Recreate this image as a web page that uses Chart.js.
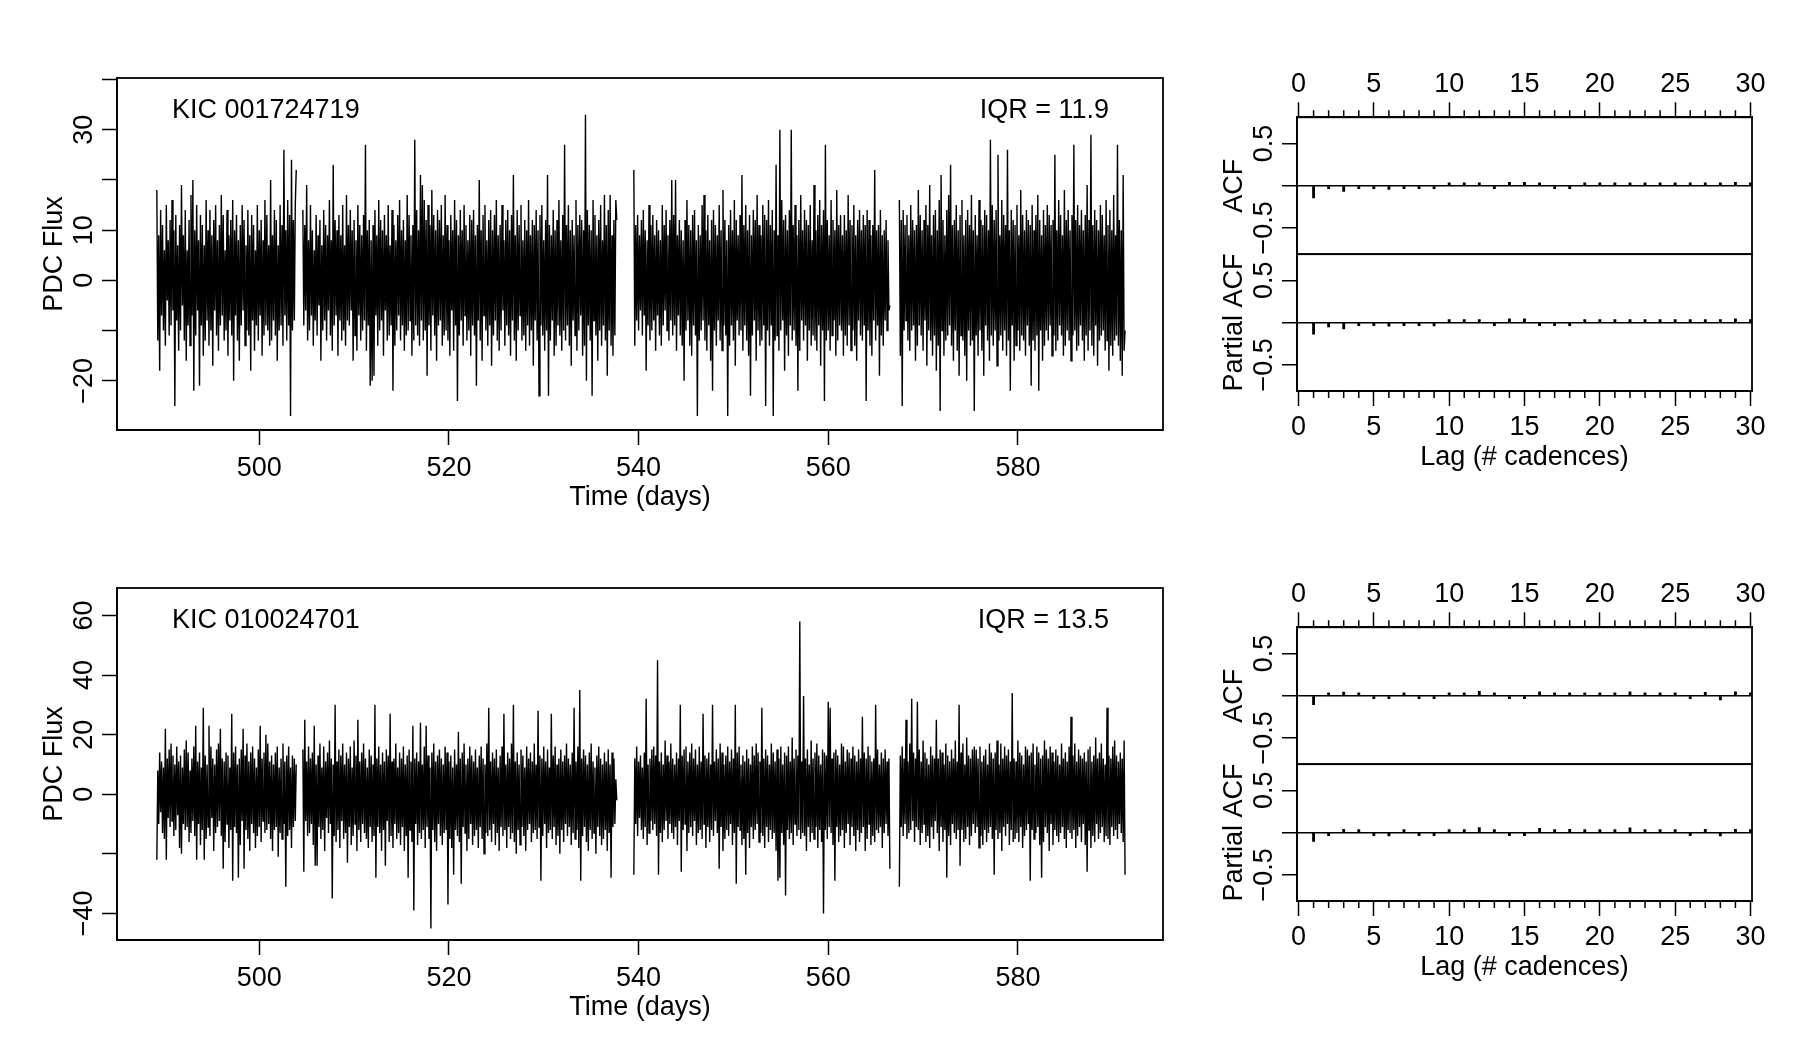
<!DOCTYPE html>
<html>
<head>
<meta charset="utf-8">
<script src="https://cdn.jsdelivr.net/npm/chart.js@4.4.1/dist/chart.umd.min.js"></script>
<style>
html, body { margin: 0; padding: 0; background: #fff; }
#page { position: relative; width: 1800px; height: 1050px; overflow: hidden; background: #fff; }
#page canvas { position: absolute; }
</style>
</head>
<body>
<div id="page">
  <canvas id="lcA" width="1200" height="525" style="left:0;top:0"></canvas>
  <canvas id="acfA" width="600" height="525" style="left:1200px;top:0"></canvas>
  <canvas id="lcB" width="1200" height="525" style="left:0;top:510px"></canvas>
  <canvas id="acfB" width="600" height="525" style="left:1200px;top:510px"></canvas>
</div>
<script>
// time segments (days), same quarter for both stars; cadences evenly spread in each
const segStart = [489.2, 504.6, 539.5, 567.5];
const segEnd = [503.9, 537.7, 566.5, 591.3];
const timeTicks = [500, 520, 540, 560, 580];

// KIC 001724719 flux, per segment
const fluxA1 = [18,-12,9,-18,14,-7,11,-10,6,-13,15,-4,8,-11,12,-9,16,-6,10,-25,
  13,-8,7,-14,11,-10,19,-5,9,-12,14,-16,6,-9,12,-13,17,-7,20,-22,
  10,-11,15,-6,8,-21,13,-9,11,-15,7,-12,16,-8,10,-13,14,-10,9,-17,
  12,-6,15,-11,8,-14,11,-9,17,-7,13,-12,6,-10,14,-15,9,-8,12,-11,
  16,-20,10,-7,13,-12,8,-16,11,-9,15,-6,12,-13,7,-10,14,-11,9,-18,
  13,-8,11,-14,6,-9,15,-12,10,-7,12,-15,8,-11,16,-9,13,-10,7,-13,
  20,-12,9,-8,14,-11,12,-16,7,-10,15,-9,11,-13,26,-7,10,-12,16,-9,
  13,-27,24,-10,12,-8,15,22];
const fluxA2 = [14,-9,11,-6,19,-12,8,-10,15,-7,10,-13,6,-8,13,-11,9,-5,12,-16,
  7,-10,14,-8,11,-12,9,-6,16,-11,8,-14,23,-9,12,-7,10,-15,13,-8,
  9,-12,15,-10,7,-13,17,-8,11,-9,14,-6,10,-16,12,-11,8,-14,15,-7,
  11,-12,9,-10,13,-8,27,-14,10,-9,12,-21,8,-20,11,-19,14,-7,9,-13,
  16,-10,12,-8,10,-15,13,-6,9,-12,15,-11,7,-9,14,-22,11,-13,8,-10,
  13,-7,16,-12,10,-9,12,-14,8,-11,17,-10,13,-8,9,-15,11,-12,28,-9,
  14,-11,10,-13,21,-8,19,-12,16,-10,12,-19,15,-9,11,-14,18,-7,13,-11,
  10,-16,14,-9,12,-8,15,-13,9,-11,17,-10,11,-12,8,-15,13,-6,10,-14,
  16,-9,12,-24,9,-11,14,-8,10,-13,15,-7,11,-12,8,-10,13,-15,12,-9,
  14,-11,9,-21,11,-8,20,-12,10,-16,13,-7,15,-10,8,-13,12,-9,14,-17,
  10,-11,13,-8,16,-12,9,-14,11,-10,15,-6,8,-13,12,-9,14,-11,10,-15,
  13,-8,21,-12,9,-16,14,-10,11,-7,15,-12,8,-11,12,-14,10,-9,16,-13,
  9,-10,12,-17,11,-8,14,-12,10,-23,13,-9,15,-11,8,-14,12,-10,21,-23,
  11,-12,9,-8,14,-15,10,-13,12,-9,16,-11,8,-14,13,-10,27,-12,11,-9,
  15,-13,10,-17,12,-8,9,-11,16,-14,11,-10,13,-7,12,-15,10,-13,33,-20,
  14,-9,11,-12,10,-23,16,-8,13,-11,9,-16,12,-10,15,-13,8,-9,17,-12,
  11,-19,14,-10,17,-13,9,-15,12,-11,16,12];
const fluxA3 = [22,-13,11,-8,13,-10,9,-6,12,-11,14,-7,10,-18,8,-9,15,-12,11,-10,
  13,-8,9,-14,12,-7,10,-11,8,-13,15,-9,11,-6,14,-10,9,-12,12,-8,
  20,-11,13,-9,20,-14,9,-7,12,-11,10,-13,8,-20,12,-10,16,-8,11,-13,
  10,-15,13,-9,14,-11,8,-27,11,-12,9,-10,15,-8,17,-12,10,-14,13,-9,
  8,-16,12,-22,14,-10,11,-13,9,-8,15,-12,10,-14,18,-9,12,-11,8,-27,
  11,-13,14,-9,10,-12,16,-17,12,-8,9,-11,13,-10,21,-14,11,-9,15,-12,
  10,-15,13,-23,9,-11,14,-8,12,-16,17,-10,11,-13,9,-12,15,-9,13,-25,
  12,-10,16,-13,11,-9,14,-27,10,-12,23,-11,9,-14,30,-10,16,-8,12,-18,
  13,-11,10,-15,14,-9,30,-12,11,-10,15,-13,9,-22,12,-14,17,-8,10,-12,
  14,-9,12,-16,11,-10,15,-13,8,-11,19,-12,10,-14,13,-9,16,-17,11,-10,
  14,-24,27,-12,12,-10,9,-14,16,-11,12,-8,10,-15,18,-12,11,-9,13,-10,
  9,-15,13,-11,10,-13,17,-9,12,-14,11,-10,15,-13,9,-16,12,-8,14,-11,
  10,-12,13,-9,11,-24,14,-10,12,-13,9,-15,11,-8,22,-12,10,-9,11,-19,
  14,-11,9,-13,10,-8,12,-10,8,-6,-5];
const fluxA4 = [16,-15,12,-25,14,-10,11,-8,13,-12,9,-14,15,-10,12,-9,10,-16,11,-13,
  18,-9,13,-11,10,-14,12,-8,15,-17,11,-10,19,-12,9,-15,13,-11,14,-18,
  10,-13,16,-26,21,-10,12,-15,9,-12,14,-11,17,-9,23,-13,11,-16,12,-10,
  15,-14,10,-19,13,-11,16,-12,9,-15,12,-20,14,-10,11,-13,17,-12,10,-26,
  13,-11,9,-15,16,-10,12,-14,11,-19,14,-9,13,-12,10,-16,28,-11,15,-13,
  12,-10,14,-17,25,-12,9,-11,16,-14,13,-10,11,-15,26,-12,10,-22,14,-9,
  12,-16,11,-13,15,-10,9,-14,18,-11,13,-12,10,-15,14,-9,12,-13,11,-21,
  15,-12,10,-14,13,-11,17,-22,12,-10,9,-16,14,-13,11,-10,15,-12,13,-9,
  11,-15,12,-11,25,-14,10,-12,16,-9,13,-11,9,-15,18,-13,12,-10,14,-12,
  10,-16,13,-11,27,-10,12,-14,15,-13,11,-9,14,-12,10,-16,13,-11,19,-14,
  12,-10,29,-13,11,-15,14,-9,12,-17,10,-12,15,-11,13,-10,9,-14,16,-12,
  11,-18,14,-13,10,-15,17,-12,9,-11,27,-13,12,-16,10,-19,21,-14,-10];

// KIC 010024701 flux, per segment
const fluxB1 = [-22,8,-10,14,-6,11,-13,9,-15,22,-22,12,-8,15,-11,17,-9,13,-14,10,
  -12,16,-7,11,-18,13,-20,9,-10,15,-12,18,-11,14,-16,8,-13,12,-9,16,
  -14,23,-22,11,-10,14,-17,9,-12,29,-22,13,-15,10,-11,23,-14,16,-8,12,
  -19,10,-13,15,-11,17,-9,22,-14,12,-25,11,-16,14,-10,13,-18,9,-12,27,
  -29,14,-11,16,-13,10,-28,12,-17,15,-9,22,-25,13,-12,17,-15,11,-19,14,
  -10,16,-13,12,-18,9,-14,15,-11,23,-16,12,-9,14,-13,20,-12,17,-10,11,
  -15,13,-19,10,-12,14,-11,16,-21,9,-13,12,-15,17,-10,11,-31,13,-14,16,
  -12,9,-18,13,-11,12,-9,10];
const fluxB2 = [15,-26,25,-9,11,-14,16,-13,12,-10,14,-17,23,-24,10,-24,13,-11,17,-15,
  9,-12,16,-19,11,-8,14,-13,18,-10,12,-35,10,-14,30,-16,11,-12,15,-18,
  13,-9,17,-15,10,-13,14,-23,12,-11,16,-17,9,-14,18,-10,13,-19,25,-12,
  11,-16,14,-10,17,-13,12,-15,9,-18,15,-11,13,-16,10,-14,30,-28,12,-11,
  16,-13,10,-19,14,-12,11,-24,15,-9,13,-16,27,-14,11,-18,12,-10,17,-15,
  9,-13,14,-17,12,-11,16,-19,10,-14,13,-28,15,-12,11,-16,23,-39,12,-10,
  14,-17,11,-13,24,-15,10,-12,16,-18,23,-11,13,-15,9,-45,14,-12,17,-16,
  11,-19,13,-10,15,-14,12,-17,10,-13,16,-12,14,-37,11,-15,13,-18,9,-27,
  15,-12,10,-14,21,-16,12,-30,14,-11,17,-13,10,-19,12,-15,16,-10,13,-17,
  11,-14,15,-12,9,-18,13,-11,16,-15,12,-20,10,-13,17,-14,29,-12,11,-16,
  14,-10,12,-17,15,-13,9,-19,13,-11,16,-14,27,-12,10,-18,14,-11,12,-15,
  17,-13,30,-16,11,-20,14,-12,10,-17,15,-11,13,-14,9,-19,16,-12,12,-10,
  14,-16,11,-13,17,-12,10,-15,28,-11,13,-29,12,-14,16,-10,11,-18,15,-13,
  9,-12,27,-15,13,-11,16,-17,10,-14,12,-20,15,-12,11,-16,13,-10,17,-14,
  12,-11,10,-17,14,-13,29,-15,11,-12,16,-18,35,-29,12,-14,15,-11,13,-16,
  10,-19,14,-12,17,-15,11,-13,9,-20,13,-11,16,-14,12,-17,10,-15,14,-12,
  11,-19,15,-13,10,-28,14,-11,12,-10,5,-2];
const fluxB3 = [-27,12,-10,16,-14,11,-8,13,-12,9,-15,14,-11,32,-17,10,-13,12,-9,15,
  -12,16,-10,13,-14,45,-27,11,-13,14,-16,10,-12,18,-9,13,-15,11,-10,17,
  -13,12,-15,10,-11,14,-17,12,-9,30,-26,13,-12,15,-10,16,-19,11,-13,14,
  -11,17,-14,12,-9,15,-17,10,-13,16,-12,11,-15,27,-10,13,-18,12,-11,14,
  -16,10,-12,30,-14,11,-9,15,-13,12,-25,17,-11,14,-19,10,-15,13,-12,16,
  -14,11,-10,15,-17,12,-13,30,-30,14,-11,16,-12,10,-17,13,-15,11,-27,15,
  -13,12,-18,10,-11,16,-15,13,-12,17,-10,14,-16,11,-13,29,-14,12,-18,15,
  -11,13,-16,10,-12,17,-15,14,-13,11,-19,15,-29,12,-28,16,-13,10,-17,14,
  -34,13,-12,16,-15,11,-13,19,-17,12,-10,15,-14,13,-12,58,-15,11,-13,33,
  -14,12,-19,15,-11,10,-16,18,-13,12,-15,14,-11,17,-18,13,-12,10,-16,15,
  -40,14,-12,13,-15,31,-11,29,-13,12,-17,14,-29,15,-11,13,-16,10,-14,17,
  -12,16,-18,11,-13,15,-10,14,-17,12,-11,16,-14,13,-19,11,-12,15,-16,12,
  -13,26,-11,14,-19,12,-15,16,-10,13,-17,11,-14,12,-16,30,-12,15,-13,10,
  -11,14,-18,12,-13,15,-10,11,-14,12,-25];
const fluxB4 = [-31,13,-11,16,-14,12,-10,25,-15,11,-13,17,-12,32,-9,14,-16,12,-11,31,
  -12,15,-17,11,-13,18,-10,14,-16,12,-14,10,-18,16,-11,13,-15,12,-9,25,
  -13,12,-19,15,-11,14,-16,10,-12,17,-28,13,-14,11,-17,15,-10,12,-13,18,
  -15,11,-12,30,-24,14,-12,17,-16,10,-15,19,-11,13,-17,12,-14,15,-10,16,
  -13,15,-11,12,-18,16,-14,11,-17,13,-12,15,-16,10,-13,17,-11,14,-15,12,
  -27,14,-12,18,-15,10,-13,17,-19,12,-11,16,-14,13,-10,15,-17,11,-12,34,
  -16,12,-15,11,-13,18,-16,14,-11,13,-18,10,-14,16,-12,15,-10,13,-29,14,
  -12,17,-15,10,-13,16,-11,14,-17,12,-28,13,-16,18,-11,15,-13,12,-19,16,
  -10,14,-17,11,-12,15,-14,13,-16,10,-13,17,-11,12,-15,14,-18,11,-12,16,
  -13,26,-15,13,-12,17,-18,11,-14,15,-11,13,-16,12,-10,14,-17,11,-26,15,
  -12,16,-18,11,-14,13,-16,19,-10,12,-15,14,-13,17,-11,12,-16,10,-14,29,
  -15,13,-17,12,-11,16,-14,18,-12,13,-15,11,-10,14,-13,12,-16,18,-27];

const fluxTicksA = [-20, -10, 0, 10, 20, 30, 40];
const fluxLabelsA = [-20, 0, 10, 30];
const fluxTicksB = [-40, -20, 0, 20, 40, 60];
const fluxLabelsB = [-40, 0, 20, 40, 60];

// autocorrelation, lags 1..30
const lags = [1,2,3,4,5,6,7,8,9,10,11,12,13,14,15,16,17,18,19,20,21,22,23,24,25,26,27,28,29,30];
const acfA = [-0.145,-0.027,-0.067,-0.012,-0.008,-0.043,-0.005,-0.027,-0.024,0.027,0.008,0.005,-0.016,0.04,0.04,
  0.002,-0.03,-0.008,0.024,0.012,0.012,0.005,0.02,0.016,0.012,0.004,0.024,0.008,0.04,0.003];
const pacfA = [-0.137,-0.05,-0.075,-0.024,-0.012,-0.043,-0.008,-0.035,-0.04,0.008,0.004,0.004,-0.012,0.043,0.043,
  -0.008,-0.024,-0.004,0.024,0.016,0.008,0.012,0.027,0.024,0.008,0.004,0.035,0.024,0.043,0.003];
const acfB = [-0.106,0.008,0.043,0.004,-0.02,-0.035,0.012,-0.031,-0.008,0.008,0.016,0.051,0.008,-0.008,-0.008,
  0.047,0.008,0.031,0.02,0.008,0.016,0.047,0.024,0.012,0.002,-0.008,0.039,-0.051,0.047,0.003];
const pacfB = [-0.106,-0.02,0.039,0.004,-0.024,-0.039,0.008,-0.031,-0.02,0.008,0.02,0.059,0.016,-0.016,-0.008,
  0.051,0.008,0.039,0.024,0.008,0.02,0.055,0.035,0.02,0.004,-0.004,0.039,-0.039,0.039,0.003];
const lagTicks = [0, 5, 10, 15, 20, 25, 30];
const acfTicks = [-0.5, 0, 0.5];
const acfLabels = [-0.5, 0.5];

const FONT = '"Liberation Sans", Arial, Helvetica, sans-serif';
Chart.defaults.font.family = FONT;
Chart.defaults.font.size = 27;
Chart.defaults.color = '#000';

const minus = v => String(v).replace('-', '\u2212');

const vText = (ctx, txt, x, y) => {
    ctx.save();
    ctx.translate(x, y);
    ctx.rotate(-Math.PI / 2);
    ctx.textAlign = 'center';
    ctx.textBaseline = 'middle';
    ctx.fillText(txt, 0, 0);
    ctx.restore();
};

// box, rotated labels and titles in the R style
const lcDecor = {
    id: 'lcDecor',
    afterDraw(chart, args, opts) {
        const { ctx, chartArea: a } = chart;
        const y = chart.scales.y;
        ctx.save();
        ctx.strokeStyle = '#000';
        ctx.lineWidth = 1.8;
        ctx.strokeRect(a.left, a.top, a.right - a.left, a.bottom - a.top);
        ctx.fillStyle = '#000';
        ctx.font = '27px ' + FONT;
        opts.yLabels.forEach(v => vText(ctx, minus(v), a.left - 32, y.getPixelForValue(v)));
        vText(ctx, 'PDC Flux', a.left - 62, (a.top + a.bottom) / 2);
        ctx.textAlign = 'center';
        ctx.textBaseline = 'middle';
        ctx.fillText('Time (days)', (a.left + a.right) / 2, a.bottom + 68);
        ctx.textAlign = 'left';
        ctx.fillText(opts.star, a.left + 55, a.top + 33);
        ctx.textAlign = 'right';
        ctx.fillText(opts.iqr, a.right - 54, a.top + 33);
        ctx.restore();
    }
};

const acfDecor = {
    id: 'acfDecor',
    afterDraw(chart) {
        const { ctx, chartArea: a } = chart;
        const x = chart.scales.x;
        ctx.save();
        ctx.strokeStyle = '#000';
        ctx.fillStyle = '#000';
        ctx.lineWidth = 1.8;
        ['yA', 'yP'].forEach(id => {
            const s = chart.scales[id];
            ctx.strokeRect(a.left, s.top, a.right - a.left, s.bottom - s.top);
        });
        // minor lag ticks
        ctx.lineWidth = 1.5;
        ctx.beginPath();
        lags.forEach(l => {
            if (l % 5 === 0) return;
            const px = x.getPixelForValue(l);
            ctx.moveTo(px, a.top); ctx.lineTo(px, a.top - 7);
            ctx.moveTo(px, a.bottom); ctx.lineTo(px, a.bottom + 7);
        });
        ctx.stroke();
        ctx.font = '27px ' + FONT;
        ['yA', 'yP'].forEach(id => {
            const s = chart.scales[id];
            acfLabels.forEach(v => vText(ctx, minus(v), a.left - 32, s.getPixelForValue(v)));
        });
        const yA = chart.scales.yA, yP = chart.scales.yP;
        vText(ctx, 'ACF', a.left - 62, (yA.top + yA.bottom) / 2);
        vText(ctx, 'Partial ACF', a.left - 62, (yP.top + yP.bottom) / 2);
        ctx.textAlign = 'center';
        ctx.textBaseline = 'middle';
        ctx.fillText('Lag (# cadences)', (a.left + a.right) / 2, a.bottom + 67);
        ctx.restore();
    }
};

const tickGrid = {
    drawOnChartArea: false,
    drawTicks: true,
    offset: false,
    tickLength: 15,
    tickWidth: 1.5,
    tickColor: '#000',
};

const renderLightCurve = (canvasId, segValues, yMin, yMax, yTicks, yLabels, star, iqr) => {
    const points = [];
    segValues.forEach((vals, s) => {
        const step = (segEnd[s] - segStart[s]) / (vals.length - 1);
        vals.forEach((v, i) => points.push({ x: segStart[s] + i * step, y: v }));
        points.push({ x: segEnd[s] + step / 2, y: null });
    });
    new Chart(document.getElementById(canvasId), {
        type: 'line',
        data: {
            datasets: [{
                data: points,
                borderColor: '#000',
                borderWidth: 1.4,
                pointRadius: 0,
                tension: 0,
                spanGaps: false,
            }],
        },
        options: {
            responsive: false,
            animation: false,
            layout: { padding: { left: 0, top: 78, right: 37, bottom: 0 } },
            plugins: {
                legend: { display: false },
                tooltip: { enabled: false },
                lcDecor: { yLabels, star, iqr },
            },
            scales: {
                x: {
                    type: 'linear',
                    min: 485.0,
                    max: 595.3,
                    afterBuildTicks: s => { s.ticks = timeTicks.map(v => ({ value: v })); },
                    afterFit: s => { s.height = 95; },
                    ticks: { padding: 7, maxRotation: 0, callback: v => String(v) },
                    grid: tickGrid,
                    border: { display: true, color: '#000', width: 1.8 },
                },
                y: {
                    type: 'linear',
                    min: yMin,
                    max: yMax,
                    afterBuildTicks: s => { s.ticks = yTicks.map(v => ({ value: v })); },
                    afterFit: s => { s.width = 117; },
                    ticks: { display: false },
                    grid: tickGrid,
                    border: { display: true, color: '#000', width: 1.8 },
                },
            },
        },
        plugins: [lcDecor],
    });
};

const renderAcf = (canvasId, acf, pacf) => {
    const lagAxis = (position, height, padding) => ({
        type: 'linear',
        position,
        offset: false,
        min: -0.1,
        max: 30.1,
        afterBuildTicks: s => { s.ticks = lagTicks.map(v => ({ value: v })); },
        afterFit: s => { s.height = height; },
        ticks: { padding, maxRotation: 0, callback: v => String(v) },
        grid: tickGrid,
        border: { display: true, color: '#000', width: 1.8 },
    });
    const corrAxis = () => ({
        type: 'linear',
        position: 'left',
        stack: 'corr',
        stackWeight: 1,
        min: -0.81,
        max: 0.81,
        afterBuildTicks: s => { s.ticks = acfTicks.map(v => ({ value: v })); },
        afterFit: s => { s.width = 97; },
        ticks: { display: false },
        grid: {
            drawOnChartArea: true,
            drawTicks: true,
            tickLength: 15,
            tickWidth: 1.5,
            tickColor: '#000',
            lineWidth: 1.5,
            color: c => (c.tick && c.tick.value === 0 ? '#000' : 'rgba(0,0,0,0)'),
        },
        border: { display: true, color: '#000', width: 1.8 },
    });
    const bars = (vals, yAxisID) => ({
        data: lags.map((l, i) => ({ x: l, y: vals[i] })),
        xAxisID: 'x',
        yAxisID,
        backgroundColor: '#000',
        borderWidth: 0,
        barThickness: 2.2,
        minBarLength: 3,
        grouped: false,
    });
    new Chart(document.getElementById(canvasId), {
        type: 'bar',
        data: { datasets: [bars(acf, 'yA'), bars(pacf, 'yP')] },
        options: {
            responsive: false,
            animation: false,
            layout: { padding: { left: 0, top: 0, right: 48, bottom: 0 } },
            plugins: { legend: { display: false }, tooltip: { enabled: false } },
            scales: {
                xt: lagAxis('top', 117.3, 2),
                x: lagAxis('bottom', 134, 5),
                // stacked: the later one is laid out on top
                yP: corrAxis(),
                yA: corrAxis(),
            },
        },
        plugins: [acfDecor],
    });
};

renderLightCurve('lcA', [fluxA1, fluxA2, fluxA3, fluxA4], -29.8, 40.3, fluxTicksA, fluxLabelsA, 'KIC 001724719', 'IQR = 11.9');
renderLightCurve('lcB', [fluxB1, fluxB2, fluxB3, fluxB4], -48.9, 69.2, fluxTicksB, fluxLabelsB, 'KIC 010024701', 'IQR = 13.5');
renderAcf('acfA', acfA, pacfA);
renderAcf('acfB', acfB, pacfB);
</script>
</body>
</html>
